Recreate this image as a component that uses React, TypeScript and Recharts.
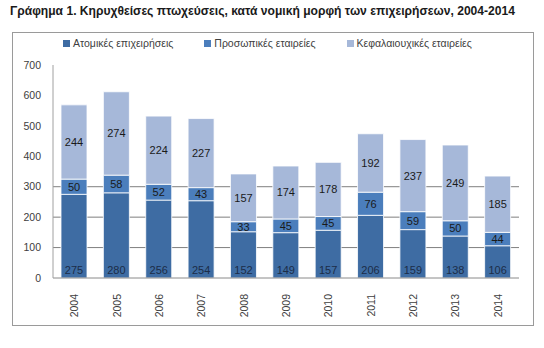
import React from 'react';
import { BarChart, Bar, XAxis, YAxis, CartesianGrid, Legend, LabelList } from 'recharts';

const years = ['2004', '2005', '2006', '2007', '2008', '2009', '2010', '2011', '2012', '2013', '2014'];
const atomikes = [275, 280, 256, 254, 152, 149, 157, 206, 159, 138, 106];
const prosopikes = [50, 58, 52, 43, 33, 45, 45, 76, 59, 50, 44];
const kefalaiouxikes = [244, 274, 224, 227, 157, 174, 178, 192, 237, 249, 185];
const yTicks = [0, 100, 200, 300, 400, 500, 600, 700];
const gridLines = [100, 200, 300];

const TITLE = 'Γράφημα 1. Κηρυχθείσες πτωχεύσεις, κατά νομική μορφή των επιχειρήσεων, 2004-2014';

const SERIES = [
  { key: 'a', name: 'Ατομικές επιχειρήσεις', color: '#3e6ca3' },
  { key: 'p', name: 'Προσωπικές εταιρείες', color: '#4b7ebc' },
  { key: 'k', name: 'Κεφαλαιουχικές εταιρείες', color: '#a6b8d9' },
];

const data = years.map((y, i) => ({
  year: y,
  a: atomikes[i],
  p: prosopikes[i],
  k: kefalaiouxikes[i],
}));

const FONT = '"Liberation Sans", Arial, sans-serif';

const LegendBox = () => (
  <div style={{ display: 'flex', fontFamily: FONT, fontSize: 10.5, color: '#404040', paddingLeft: 50 }}>
    {SERIES.map((s, i) => (
      <div key={s.key} style={{ display: 'flex', alignItems: 'center', marginRight: i === 0 ? 31 : 31 }}>
        <span style={{ width: 7, height: 7, background: s.color, display: 'inline-block', marginRight: 3 }} />
        <span>{s.name}</span>
      </div>
    ))}
  </div>
);

const XTick = (props: any) => {
  const { x, y, payload } = props;
  return (
    <text
      x={0}
      y={0}
      transform={`translate(${x + 4},${y + 8}) rotate(-90)`}
      textAnchor="end"
      fontFamily={FONT}
      fontSize={10.5}
      fill="#404040"
    >
      {payload.value}
    </text>
  );
};

export default function App() {
  return (
    <div style={{ position: 'absolute', left: 0, top: 0, width: 544, height: 348, background: '#fff' }}>
      <div
        style={{
          position: 'absolute',
          left: 10,
          top: 4,
          fontFamily: FONT,
          fontWeight: 'bold',
          fontSize: 12.1,
          color: '#1a1a1a',
          whiteSpace: 'nowrap',
        }}
      >
        {TITLE}
      </div>
      <div
        style={{
          position: 'absolute',
          left: 12,
          top: 32,
          width: 520,
          height: 292,
          border: '1px solid #9a9a9a',
        }}
      >
        <BarChart
          width={520}
          height={292}
          data={data}
          margin={{ top: 20, right: 14, bottom: 0, left: 0 }}
          barSize={26}
        >
          <CartesianGrid vertical={false} stroke="#7f7f7f" horizontalValues={gridLines} />
          <XAxis
            dataKey="year"
            height={47}
            tick={<XTick />}
            tickLine={false}
            axisLine={{ stroke: '#8a8a8a' }}
            interval={0}
          />
          <YAxis
            width={40}
            domain={[0, 700]}
            ticks={yTicks}
            tick={{ fontFamily: FONT, fontSize: 10.5, fill: '#404040' }}
            tickLine={false}
            tickMargin={6}
            axisLine={{ stroke: '#a0a0a0' }}
          />
          <Legend verticalAlign="top" content={<LegendBox />} wrapperStyle={{ top: 4, left: 0 }} />
          {SERIES.map((s) => (
            <Bar
              key={s.key}
              dataKey={s.key}
              name={s.name}
              stackId="s"
              fill={s.color}
              stroke="#ffffff"
              strokeWidth={0.8}
              isAnimationActive={false}
            >
              <LabelList
                dataKey={s.key}
                position={s.key === 'a' ? 'insideBottom' : 'center'}
                offset={s.key === 'a' ? 4 : 0}
                fontFamily={FONT}
                fontSize={11}
                fill={s.key === 'a' ? '#1c2d48' : '#1a1a1a'}
              />
            </Bar>
          ))}
        </BarChart>
      </div>
    </div>
  );
}
